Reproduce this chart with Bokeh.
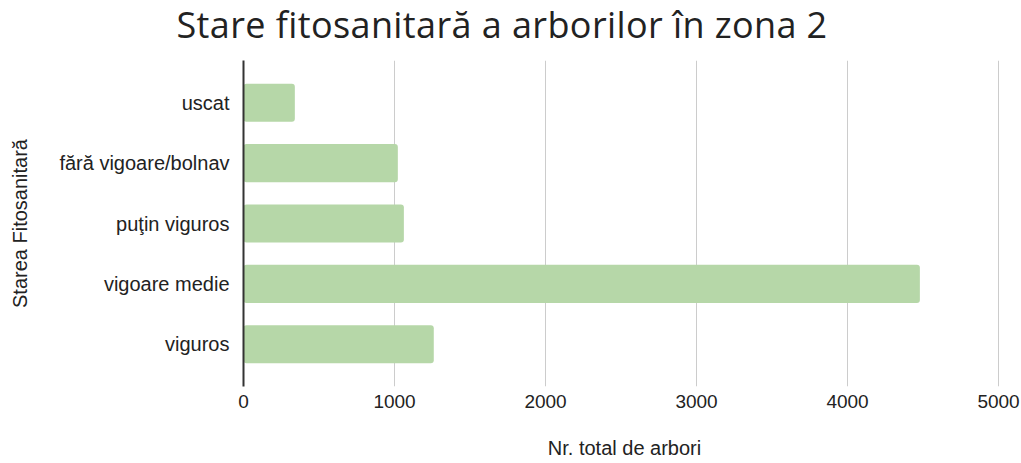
from bokeh.plotting import figure
from bokeh.models import FactorRange, Range1d, Div
from bokeh.layouts import column
from bokeh.embed import file_html
from bokeh.resources import INLINE

title_text = "Stare fitosanitară a arborilor în zona 2"
categories = ["uscat", "fără vigoare/bolnav", "puţin viguros", "vigoare medie", "viguros"]
values = [340, 1022, 1062, 4479, 1260]
x_ticks = [0, 1000, 2000, 3000, 4000, 5000]

factors = list(reversed(categories))
FRAME_W, FRAME_H = 762, 326

title = Div(
    text=('<div style="font-family:\'Open Sans\';font-size:36px;line-height:normal;'
          'padding-top:0px;margin:0;text-align:center;width:1004px;color:#222222;'
          'letter-spacing:0.4px;white-space:nowrap;">' + title_text + '</div>'),
    width=1021, height=60, margin=0,
)

p = figure(
    frame_width=FRAME_W, frame_height=FRAME_H,
    y_range=FactorRange(factors=factors, range_padding=0.2, range_padding_units="absolute"),
    x_range=Range1d(0, 5046),
    output_backend="svg", toolbar_location=None,
    min_border_left=243, min_border_right=16, min_border_top=0, min_border_bottom=77,
    margin=0,
)

p.hbar(y=factors, right=list(reversed(values)), left=0, height=0.63,
       fill_color="#b6d7a8", line_color=None, border_radius=3)

p.outline_line_color = None
p.ygrid.grid_line_color = None
p.xgrid.grid_line_color = "#cccccc"
p.xgrid.grid_line_width = 1
p.xaxis.ticker = x_ticks
p.xaxis.axis_line_color = None
p.xaxis.major_tick_line_color = None
p.xaxis.minor_tick_line_color = None
p.xaxis.major_label_standoff = 2
p.xaxis.major_label_text_font = "Liberation Sans"
p.xaxis.major_label_text_font_size = "19px"
p.xaxis.major_label_text_color = "#222222"
p.xaxis.axis_label = "Nr. total de arbori"
p.xaxis.axis_label_text_font = "Liberation Sans"
p.xaxis.axis_label_text_font_size = "20px"
p.xaxis.axis_label_text_font_style = "normal"
p.xaxis.axis_label_text_color = "#222222"
p.xaxis.axis_label_standoff = 26

p.yaxis.axis_line_color = "#333333"
p.yaxis.axis_line_width = 2
p.yaxis.major_tick_line_color = None
p.yaxis.minor_tick_line_color = None
p.yaxis.major_label_standoff = 8
p.yaxis.major_label_text_font = "Liberation Sans"
p.yaxis.major_label_text_font_size = "20px"
p.yaxis.major_label_text_color = "#222222"
p.yaxis.axis_label = "Starea Fitosanitară"
p.yaxis.axis_label_text_font = "Liberation Sans"
p.yaxis.axis_label_text_font_size = "20px"
p.yaxis.axis_label_text_font_style = "normal"
p.yaxis.axis_label_text_color = "#222222"
p.yaxis.axis_label_standoff = 25

layout = column(title, p, spacing=0, margin=0)
open("out.html", "w").write(file_html(layout, INLINE))
